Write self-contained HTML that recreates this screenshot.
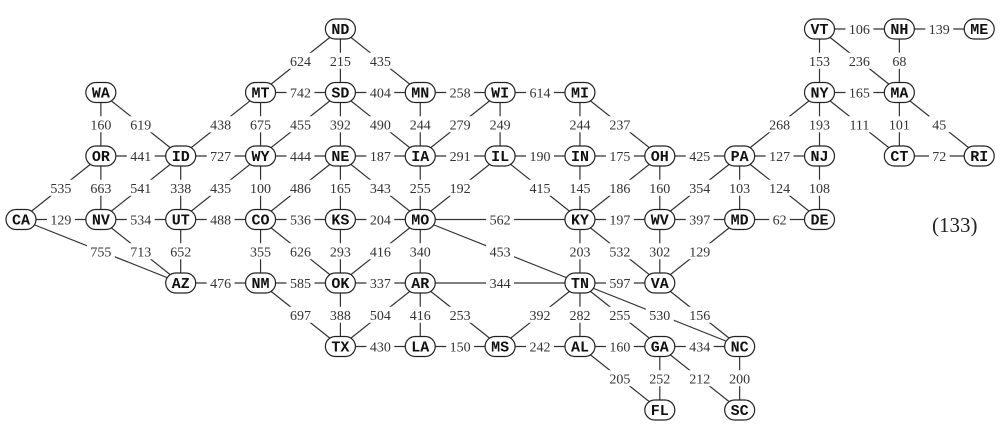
<!DOCTYPE html>
<html><head><meta charset="utf-8">
<style>
html,body{margin:0;padding:0;background:#fff;}
svg{display:block;}
.lbl{font-family:"Liberation Serif",serif;font-size:14px;fill:#333;}
.nd{font-family:"Liberation Mono",monospace;font-weight:bold;font-size:15px;fill:#111;}
</style></head>
<body>
<svg id="g" width="1006" height="431" viewBox="0 0 1006 431">
<g id="edges"></g><g id="labels"></g><g id="nodes"></g>
<text x="932" y="232" font-family="Liberation Serif,serif" font-size="21" fill="#222">(133)</text>
</svg>
<script>
const states = ["ND","VT","NH","ME","WA","MT","SD","MN","WI","MI","NY","MA","OR","ID","WY","NE","IA","IL","IN","OH","PA","NJ","CT","RI","CA","NV","UT","CO","KS","MO","KY","WV","MD","DE","AZ","NM","OK","AR","TN","VA","TX","LA","MS","AL","GA","NC","FL","SC"];
const stateCol = [4,10,11,12,1,3,4,5,6,7,10,11,1,2,3,4,5,6,7,8,9,10,11,12,0,1,2,3,4,5,7,8,9,10,2,3,4,5,7,8,4,5,6,7,8,9,8,9];
const stateRow = [0,0,0,0,1,1,1,1,1,1,1,1,2,2,2,2,2,2,2,2,2,2,2,2,3,3,3,3,3,3,3,3,3,3,4,4,4,4,4,4,5,5,5,5,5,5,6,6];
const edgeFrom = ["ND","ND","ND","WA","WA","MT","MT","MT","SD","SD","SD","SD","MN","MN","WI","WI","WI","MI","MI","OR","OR","OR","ID","ID","ID","WY","WY","WY","NE","NE","NE","NE","IA","IA","IL","IL","IL","IN","IN","OH","OH","OH","PA","PA","PA","PA","PA","NY","NY","NY","NY","VT","VT","NH","NH","MA","MA","CT","NJ","MD","CA","CA","NV","NV","UT","UT","CO","CO","CO","KS","KS","MO","MO","MO","MO","KY","KY","KY","WV","WV","MD","AZ","NM","NM","OK","OK","AR","AR","AR","AR","TN","TN","TN","TN","TN","VA","TX","LA","MS","AL","AL","GA","GA","GA","NC"];
const edgeTo   = ["MT","SD","MN","OR","ID","SD","ID","WY","MN","WY","NE","IA","WI","IA","MI","IA","IL","IN","OH","ID","NV","CA","WY","NV","UT","NE","UT","CO","IA","CO","KS","MO","IL","MO","IN","MO","KY","OH","KY","PA","KY","WV","NJ","WV","MD","DE","NY","NJ","VT","MA","CT","NH","MA","ME","MA","CT","RI","RI","DE","DE","NV","AZ","UT","AZ","CO","AZ","KS","NM","OK","MO","OK","KY","OK","AR","TN","WV","TN","VA","MD","VA","VA","NM","OK","TX","AR","TX","TN","LA","TX","MS","VA","MS","AL","GA","NC","NC","LA","MS","AL","GA","FL","FL","NC","SC","SC"];
const edgeMiles = [624,215,435,160,619,742,438,675,404,455,392,490,258,244,614,279,249,244,237,441,663,535,727,541,338,444,435,100,187,486,165,343,291,255,190,192,415,175,145,425,186,160,127,354,103,124,268,193,153,165,111,106,236,139,68,101,45,72,108,62,129,755,534,713,488,652,536,355,626,204,293,562,416,340,453,197,203,532,397,302,129,476,585,697,337,388,344,416,504,253,597,392,282,255,530,156,430,150,242,160,205,252,434,212,200];

const NS="http://www.w3.org/2000/svg";
function xPos(c){return 21+79.85*c;}
function yPos(r){return 29+63.5*r;}
const pos={};
states.forEach((s,i)=>{pos[s]=[xPos(stateCol[i]),yPos(stateRow[i])];});
const eg=document.getElementById('edges'),lg=document.getElementById('labels'),ng=document.getElementById('nodes');
edgeFrom.forEach((a,i)=>{
  const b=edgeTo[i];const [x1,y1]=pos[a],[x2,y2]=pos[b];
  const l=document.createElementNS(NS,'line');
  l.setAttribute('x1',x1);l.setAttribute('y1',y1);l.setAttribute('x2',x2);l.setAttribute('y2',y2);
  l.setAttribute('stroke','#333');l.setAttribute('stroke-width','1.2');
  
  
  eg.appendChild(l);
  const mx=(x1+x2)/2,my=(y1+y2)/2;
  const txt=String(edgeMiles[i]);const w=txt.length*7.3+6;
  const r=document.createElementNS(NS,'rect');
  r.setAttribute('x',mx-w/2);r.setAttribute('y',my-8);r.setAttribute('width',w);r.setAttribute('height',16);r.setAttribute('fill','#fff');
  
  
  lg.appendChild(r);
  const t=document.createElementNS(NS,'text');
  t.setAttribute('x',mx);t.setAttribute('y',my+5);t.setAttribute('text-anchor','middle');t.setAttribute('class','lbl');
  t.textContent=txt;
  
  
  lg.appendChild(t);
});
states.forEach(s=>{
  const [x,y]=pos[s];
  const g=document.createElementNS(NS,'g');
  
  
  const r=document.createElementNS(NS,'rect');
  r.setAttribute('x',x-15);r.setAttribute('y',y-10);r.setAttribute('width',30);r.setAttribute('height',20);
  r.setAttribute('rx',10);r.setAttribute('fill','#fff');r.setAttribute('stroke','#222');r.setAttribute('stroke-width','1.2');
  g.appendChild(r);
  const t=document.createElementNS(NS,'text');
  t.setAttribute('x',x);t.setAttribute('y',y+5);t.setAttribute('text-anchor','middle');t.setAttribute('class','nd');
  t.textContent=s;
  g.appendChild(t);
  ng.appendChild(g);
});
</script>
</body></html>
